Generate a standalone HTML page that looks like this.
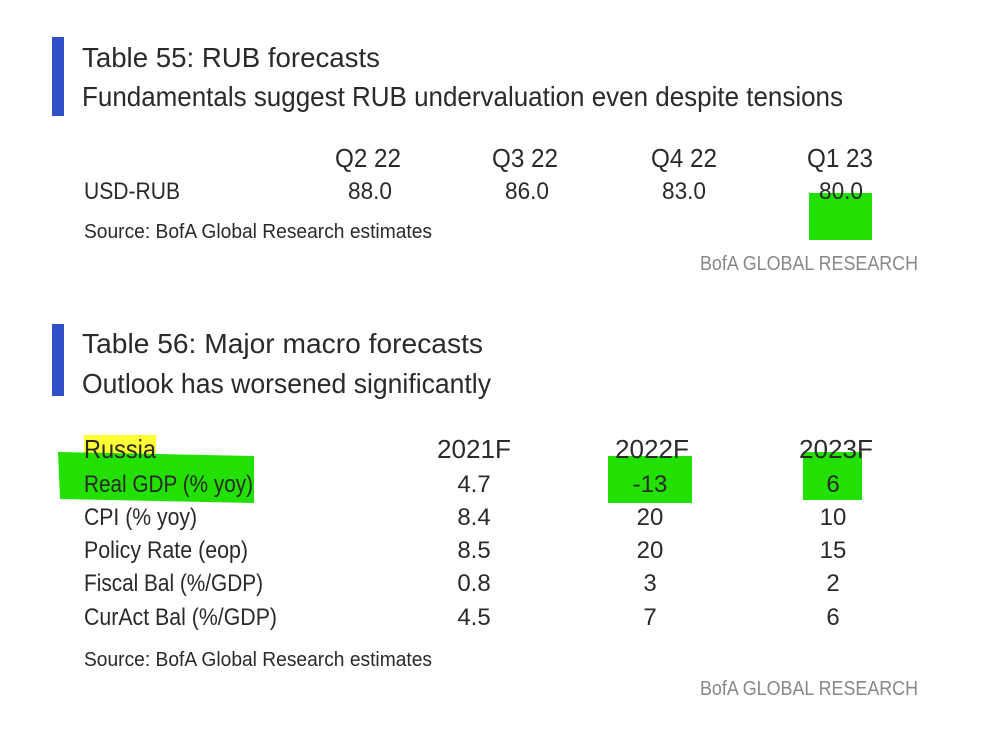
<!DOCTYPE html>
<html><head><meta charset="utf-8"><style>
html,body{margin:0;padding:0;background:#fff}
svg{display:block}
text{font-family:"Liberation Sans Narrow","Liberation Sans",sans-serif;fill:#2a2a2a}
</style></head><body>
<svg width="985" height="745" viewBox="0 0 985 745" xmlns="http://www.w3.org/2000/svg">
<rect x="52" y="37" width="12" height="79" fill="#3050c8"/>
<rect x="52" y="324" width="12" height="72" fill="#3050c8"/>
<rect x="809" y="193" width="63" height="47" fill="#22e000"/>
<rect x="84" y="435" width="72" height="23" fill="#ffff33"/>
<path d="M58 452 L254 456 L254 503 L60 499 Z" fill="#22e000"/>
<rect x="608" y="456" width="84" height="47" fill="#22e000"/>
<rect x="803" y="452" width="59" height="48" fill="#22e000"/>

<text x="82" y="67" font-size="28" textLength="298" lengthAdjust="spacingAndGlyphs">Table 55: RUB forecasts</text>
<text x="82" y="106" font-size="28" textLength="761" lengthAdjust="spacingAndGlyphs">Fundamentals suggest RUB undervaluation even despite tensions</text>
<g font-size="26" text-anchor="middle">
<text x="368" y="167" textLength="66" lengthAdjust="spacingAndGlyphs">Q2 22</text><text x="525" y="167" textLength="66" lengthAdjust="spacingAndGlyphs">Q3 22</text><text x="684" y="167" textLength="66" lengthAdjust="spacingAndGlyphs">Q4 22</text><text x="840" y="167" textLength="66" lengthAdjust="spacingAndGlyphs">Q1 23</text>
</g>
<text x="84" y="199" font-size="24" textLength="96" lengthAdjust="spacingAndGlyphs">USD-RUB</text>
<g font-size="24" text-anchor="middle">
<text x="370" y="199" textLength="44" lengthAdjust="spacingAndGlyphs">88.0</text><text x="527" y="199" textLength="44" lengthAdjust="spacingAndGlyphs">86.0</text><text x="684" y="199" textLength="44" lengthAdjust="spacingAndGlyphs">83.0</text><text x="841" y="199" textLength="44" lengthAdjust="spacingAndGlyphs">80.0</text>
</g>
<text x="84" y="238" font-size="20" textLength="348" lengthAdjust="spacingAndGlyphs">Source: BofA Global Research estimates</text>
<text x="700" y="270" font-size="20" style="fill:#888" textLength="218" lengthAdjust="spacingAndGlyphs">BofA GLOBAL RESEARCH</text>

<text x="82" y="353" font-size="28" textLength="401" lengthAdjust="spacingAndGlyphs">Table 56: Major macro forecasts</text>
<text x="82" y="393" font-size="28" textLength="409" lengthAdjust="spacingAndGlyphs">Outlook has worsened significantly</text>
<text x="84" y="458" font-size="26" textLength="72" lengthAdjust="spacingAndGlyphs">Russia</text>
<g font-size="26" text-anchor="middle">
<text x="474" y="458" textLength="74" lengthAdjust="spacingAndGlyphs">2021F</text><text x="652" y="458" textLength="74" lengthAdjust="spacingAndGlyphs">2022F</text><text x="836" y="458" textLength="74" lengthAdjust="spacingAndGlyphs">2023F</text>
</g>
<g font-size="24">
<text x="84" y="492" textLength="169" lengthAdjust="spacingAndGlyphs">Real GDP (% yoy)</text>
<text x="84" y="525" textLength="113" lengthAdjust="spacingAndGlyphs">CPI (% yoy)</text>
<text x="84" y="558" textLength="164" lengthAdjust="spacingAndGlyphs">Policy Rate (eop)</text>
<text x="84" y="591" textLength="179" lengthAdjust="spacingAndGlyphs">Fiscal Bal (%/GDP)</text>
<text x="84" y="625" textLength="193" lengthAdjust="spacingAndGlyphs">CurAct Bal (%/GDP)</text>
</g>
<g font-size="24" text-anchor="middle">
<text x="474" y="492">4.7</text><text x="650" y="492">-13</text><text x="833" y="492">6</text>
<text x="474" y="525">8.4</text><text x="650" y="525">20</text><text x="833" y="525">10</text>
<text x="474" y="558">8.5</text><text x="650" y="558">20</text><text x="833" y="558">15</text>
<text x="474" y="591">0.8</text><text x="650" y="591">3</text><text x="833" y="591">2</text>
<text x="474" y="625">4.5</text><text x="650" y="625">7</text><text x="833" y="625">6</text>
</g>
<text x="84" y="666" font-size="20" textLength="348" lengthAdjust="spacingAndGlyphs">Source: BofA Global Research estimates</text>
<text x="700" y="695" font-size="20" style="fill:#888" textLength="218" lengthAdjust="spacingAndGlyphs">BofA GLOBAL RESEARCH</text>
</svg>
</body></html>
